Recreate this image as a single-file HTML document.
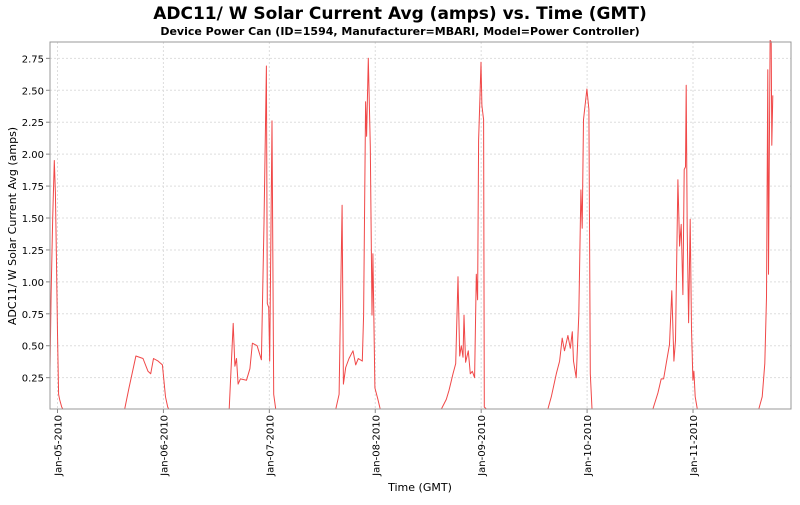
<!DOCTYPE html>
<html><head><meta charset="utf-8"><style>
body{margin:0;background:#fff;}
svg text{font-family:"DejaVu Sans","Liberation Sans",sans-serif;}
</style></head><body>
<svg id="chart" width="800" height="500" xmlns="http://www.w3.org/2000/svg">
<rect width="800" height="500" fill="#fff"/>
<text x="400" y="19" text-anchor="middle" font-size="17" font-weight="bold">ADC11/ W Solar Current Avg (amps) vs. Time (GMT)</text>
<text x="400" y="35" text-anchor="middle" font-size="11" font-weight="bold">Device Power Can (ID=1594, Manufacturer=MBARI, Model=Power Controller)</text>
<g id="grid"></g>
<g id="axes"></g>
<g id="series"></g>
<rect x="50" y="42" width="741" height="367" fill="none" stroke="#999" stroke-width="1"/>
<text transform="translate(16,226) rotate(-90)" text-anchor="middle" font-size="11">ADC11/ W Solar Current Avg (amps)</text>
<text x="420" y="491" text-anchor="middle" font-size="11">Time (GMT)</text>
</svg>
<script>
const yTicks=[0.25,0.5,0.75,1.0,1.25,1.5,1.75,2.0,2.25,2.5,2.75];
const xTickDays=[0,1,2,3,4,5,6];
const xTickLabels=["Jan-05-2010","Jan-06-2010","Jan-07-2010","Jan-08-2010","Jan-09-2010","Jan-10-2010","Jan-11-2010"];
const times=[-0.071,-0.06,-0.045,-0.03,-0.02,-0.01,0.0,0.01,0.02,0.04,0.05,
0.634,0.675,0.74,0.807,0.854,0.88,0.906,0.95,0.99,1.02,1.04,1.05,
1.621,1.659,1.675,1.69,1.705,1.727,1.784,1.816,1.84,1.884,1.925,1.95,1.972,1.981,1.994,2.003,2.025,2.041,2.06,
2.627,2.659,2.687,2.699,2.721,2.752,2.79,2.815,2.84,2.878,2.89,2.909,2.918,2.934,2.953,2.969,2.978,2.997,3.025,3.047,
3.624,3.671,3.696,3.734,3.759,3.781,3.797,3.812,3.828,3.838,3.853,3.878,3.897,3.916,3.938,3.954,3.966,3.976,3.988,3.998,4.007,4.023,4.029,4.048,
4.63,4.662,4.709,4.74,4.765,4.787,4.819,4.841,4.86,4.872,4.897,4.922,4.941,4.954,4.966,4.998,5.017,5.03,5.046,
5.621,5.668,5.7,5.722,5.747,5.778,5.8,5.819,5.835,5.857,5.873,5.888,5.904,5.917,5.929,5.936,5.945,5.958,5.973,5.986,5.999,6.008,6.021,6.04,
6.621,6.653,6.678,6.694,6.706,6.713,6.728,6.738,6.744,6.753];
const values=[0.3,0.9,1.5,1.95,1.7,1.2,0.6,0.12,0.08,0.02,0,
0,0.17,0.42,0.4,0.3,0.28,0.4,0.38,0.35,0.1,0.02,0,
0,0.675,0.34,0.4,0.2,0.24,0.23,0.32,0.52,0.5,0.39,1.46,2.69,0.83,0.8,0.38,2.26,0.12,0,
0,0.12,1.6,0.2,0.33,0.4,0.46,0.35,0.4,0.38,0.74,2.41,2.14,2.75,2.06,0.74,1.22,0.17,0.08,0,
0,0.08,0.15,0.28,0.36,1.04,0.42,0.5,0.41,0.74,0.37,0.46,0.28,0.3,0.25,1.06,0.86,2.11,2.43,2.72,2.38,2.27,0.02,0,
0,0.1,0.28,0.38,0.56,0.46,0.58,0.48,0.61,0.38,0.25,0.74,1.72,1.42,2.27,2.51,2.35,0.28,0,
0,0.13,0.24,0.24,0.36,0.51,0.93,0.38,0.54,1.8,1.28,1.45,0.9,1.88,1.9,2.54,1.41,0.68,1.49,0.63,0.23,0.3,0.1,0,
0,0.1,0.36,0.88,2.66,1.06,2.89,2.88,2.07,2.46];

const NS="http://www.w3.org/2000/svg";
const X0=50,X1=791,Y0=42,Y1=409;
const tMin=-0.0708,tMax=6.925,vMin=0.0047,vMax=2.878;
function xs(t){return X0+(t-tMin)/(tMax-tMin)*(X1-X0);}
function ys(v){return Y1-(v-vMin)/(vMax-vMin)*(Y1-Y0);}
const grid=document.getElementById('grid'),axes=document.getElementById('axes'),series=document.getElementById('series');
function mk(tag,attrs,parent){const e=document.createElementNS(NS,tag);for(const k in attrs)e.setAttribute(k,attrs[k]);parent.appendChild(e);return e;}
yTicks.forEach(v=>{
  const y=ys(v);
  const g=mk('line',{x1:X0,x2:X1,y1:y,y2:y,stroke:'#ddd','stroke-dasharray':'2,2'},grid);
  
  
  const tk=mk('line',{x1:X0-4,x2:X0,y1:y,y2:y,stroke:'#888'},axes);
  
  
  const t=mk('text',{x:X0-6,y:y+4,'text-anchor':'end','font-size':'10'},axes);
  t.textContent=v.toFixed(2);
  
  
});
xTickDays.forEach((d,i)=>{
  const x=xs(d);
  const g=mk('line',{x1:x,x2:x,y1:Y0,y2:Y1,stroke:'#ddd','stroke-dasharray':'2,2'},grid);
  
  
  const tk=mk('line',{x1:x,x2:x,y1:Y1,y2:Y1+4,stroke:'#888'},axes);
  
  
  const t=mk('text',{transform:`translate(${x+4},${Y1+6}) rotate(-90)`,'text-anchor':'end','font-size':'10'},axes);
  t.textContent=xTickLabels[i];
  
  
});
const pts=times.map((t,i)=>xs(t).toFixed(1)+','+ys(Math.max(values[i],vMin)).toFixed(1)).join(' ');
const line=mk('polyline',{points:pts,fill:'none',stroke:'#f04848','stroke-width':'1','stroke-linejoin':'round'},series);


</script>
</body></html>
